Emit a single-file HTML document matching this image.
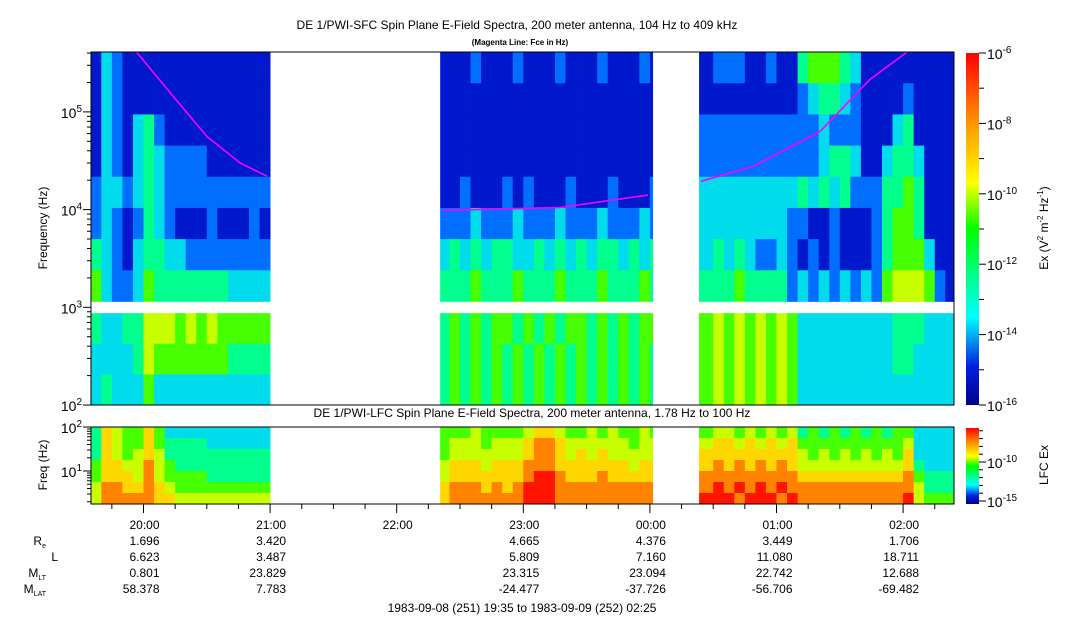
<!DOCTYPE html>
<html><head><meta charset="utf-8"><style>
html,body{margin:0;padding:0;background:#fff;}
svg{display:block;font-family:"Liberation Sans",Arial,sans-serif;}
</style></head><body>
<svg id="chart" width="1083" height="620" viewBox="0 0 1083 620" xmlns="http://www.w3.org/2000/svg">
<defs>
<linearGradient id="jet" x1="0" y1="1" x2="0" y2="0">
<stop offset="0" stop-color="#00008c"/><stop offset="0.11" stop-color="#0020e0"/><stop offset="0.25" stop-color="#00ffff"/><stop offset="0.5" stop-color="#00ff00"/><stop offset="0.63" stop-color="#ffff00"/><stop offset="0.8" stop-color="#ff9600"/><stop offset="1" stop-color="#ff0000"/>
</linearGradient>
</defs>
<g id="cells"></g>
<g id="gaps"></g>
<g id="fce"></g>
<text x="517" y="29" font-size="12" text-anchor="middle">DE 1/PWI-SFC  Spin Plane E-Field Spectra, 200 meter antenna, 104 Hz to 409 kHz</text>
<text x="520" y="45" font-size="8" font-weight="bold" text-anchor="middle">(Magenta Line: Fce in Hz)</text>
<text x="532" y="417" font-size="12" text-anchor="middle">DE 1/PWI-LFC  Spin Plane E-Field Spectra, 200 meter antenna, 1.78 Hz to 100 Hz</text>
<rect x="91" y="52" width="863" height="353" fill="none" stroke="#000" stroke-width="1"/>
<rect x="91" y="427" width="863" height="77" fill="none" stroke="#000" stroke-width="1"/>
<rect x="966" y="53" width="13" height="352" fill="url(#jet)"/>
<rect x="966" y="428" width="13" height="76" fill="url(#jet)"/>
<g id="axes" font-size="12"></g>
<text transform="translate(47,228) rotate(-90)" font-size="12" text-anchor="middle">Frequency (Hz)</text>
<text transform="translate(47,465) rotate(-90)" font-size="12" text-anchor="middle">Freq (Hz)</text>
<text transform="translate(1048,228) rotate(-90)" font-size="12" text-anchor="middle">Ex (V<tspan dy="-5" font-size="8">2</tspan><tspan dy="5"> m</tspan><tspan dy="-5" font-size="8">-2</tspan><tspan dy="5"> Hz</tspan><tspan dy="-5" font-size="8">-1</tspan><tspan dy="5">)</tspan></text>
<text transform="translate(1048,465) rotate(-90)" font-size="12" text-anchor="middle">LFC Ex</text>
<text x="522" y="612" font-size="12" text-anchor="middle">1983-09-08 (251) 19:35 to 1983-09-09 (252) 02:25</text>
</svg>
<script>
// ---- data ----
// spectrogram levels (0..9), one string per frequency band, 5-min columns from 19:35; '-' = no data
const sfcRows = [
 "13211111111111111"+"----------------"+"111211121112111211121"+"---"+"1"+"122211211455543111111111",
 "13211111111111111"+"----------------"+"111111111111111111111"+"---"+"1"+"111111111234432111121111",
 "13213421111111111"+"----------------"+"111111111111111111111"+"---"+"2"+"222222222223222111341111",
 "13213432222111111"+"----------------"+"111111111111111111111"+"---"+"2"+"222222222223443113443111",
 "23323432222222222"+"----------------"+"112111212111211121112"+"---"+"3"+"333333333434342224454111",
 "23212432111211121"+"----------------"+"222322232223222322232"+"---"+"3"+"333333332211211124554111",
 "43213443322222222"+"----------------"+"343434433434343443434"+"---"+"3"+"343432232121211124555311",
 "53223544444443333"+"----------------"+"444544454445444544454"+"---"+"4"+"444544442323232325666521",
 "43344666565655555"+"----------------"+"454545545454554545455"+"---"+"5"+"565656565333333333444333",
 "33334655555554444"+"----------------"+"454545454545454545454"+"---"+"5"+"565656565333333333443333",
 "34333533333333333"+"----------------"+"454545454545454545454"+"---"+"5"+"565656565333333333333333"
];
// band edges (log10 Hz), top to bottom
const sfcBandHi = [5.612,5.293,4.974,4.655,4.336,4.017,3.698,3.379, 2.94,2.627,2.313];
const sfcBandLo = [5.293,4.974,4.655,4.336,4.017,3.698,3.379,3.06, 2.627,2.313,2.0];
const lfcRows = [
 "47655753333333333"+"----------------"+"555655556776556565565"+"---"+"5"+"566565656454545454553333",
 "47655754444333333"+"----------------"+"566656667887666666566"+"---"+"6"+"677676767555555555563333",
 "47656764444444444"+"----------------"+"566666667887676766666"+"---"+"7"+"777777777656565656573333",
 "57766865444444444"+"----------------"+"677767778887777777677"+"---"+"7"+"787878787666666666674333",
 "57776865555444444"+"----------------"+"677777778998777877777"+"---"+"8"+"888888888777777777785444",
 "68877876555555555"+"----------------"+"788878789998888888888"+"---"+"8"+"898989898888888888886444",
 "68888877666666666"+"----------------"+"788888889998888888888"+"---"+"9"+"999899989888888888896555"
];
const lfcBandHi = [2.0,1.75,1.5,1.25,1.0,0.75,0.5];
const lfcBandLo = [1.75,1.5,1.25,1.0,0.75,0.5,0.25];
const colStepMin = 5;
const gapStartMin = [86.4, 266.5];
const gapEndMin = [165.6, 288.3];
// Fce (minutes since 19:35, Hz)
const fceT1 = [21.7,39,55.1,70.8,83.5];
const fceF1 = [409000,145000,56000,30000,22000];
const fceT2 = [166.5,222.4,264.1];
const fceF2 = [9800,10500,14100];
const fceT3 = [289.2,313.9,345.6,369.3,386.8];
const fceF3 = [19500,27600,63000,215000,409000];
// axis labels
const hourLabels = ["20:00","21:00","22:00","23:00","00:00","01:00","02:00"];
const hourMin = [25,85,145,205,265,325,385];
const ephRowNames = ["R","L","M","M"];
const ephRowSubs = ["e","","LT","LAT"];
const ephRe   = ["1.696","3.420","","4.665","4.376","3.449","1.706"];
const ephL    = ["6.623","3.487","","5.809","7.160","11.080","18.711"];
const ephMLT  = ["0.801","23.829","","23.315","23.094","22.742","12.688"];
const ephMLAT = ["58.378","7.783","","-24.477","-37.726","-56.706","-69.482"];
const sfcDecades = [2,3,4,5];
const sfcCbExp = [-6,-8,-10,-12,-14,-16];
const lfcCbExp = [-10,-15];

// ---- scales ----
const NS="http://www.w3.org/2000/svg";
const xT = m => 90.75 + m*2.11;
const ySfc = lf => 405 - (lf-2)*97.7;
const yLfc = lf => 427 + (2-lf)*44;
const levelColors=[[0,0,140],[0,25,205],[0,110,255],[0,220,235],[0,255,140],[70,255,0],[200,255,0],[255,215,0],[255,130,0],[255,20,0]];
function cmap(v){const c=levelColors[Math.max(0,Math.min(9,v))];return `rgb(${c[0]},${c[1]},${c[2]})`;}
function mk(tag,attrs,parent){const e=document.createElementNS(NS,tag);for(const k in attrs)e.setAttribute(k,attrs[k]);parent.appendChild(e);return e;}

const cells=document.getElementById('cells');
function drawRows(rows,hi,lo,yf,name){
 rows.forEach((s,r)=>{
  const y0=yf(hi[r]), y1=yf(lo[r]);
  for(let k=0;k<s.length;k++){
   const ch=s[k]; if(ch==='-') continue;
   const x0=xT(k*colStepMin), x1=Math.min(xT((k+1)*colStepMin),954);
   const e=mk('rect',{x:x0.toFixed(2),y:y0.toFixed(2),width:(x1-x0+0.4).toFixed(2),height:(y1-y0+0.4).toFixed(2),fill:cmap(+ch)},cells);
   
   
  }
 });
}
drawRows(sfcRows,sfcBandHi,sfcBandLo,ySfc,'sfc-heatmap-cell');
drawRows(lfcRows,lfcBandHi,lfcBandLo,yLfc,'lfc-heatmap-cell');

const gaps=document.getElementById('gaps');
gapStartMin.forEach((g,i)=>{
 const w=xT(gapEndMin[i])-xT(g);
 const e=mk('rect',{x:xT(g),y:52,width:w,height:353,fill:'#fff'},gaps);
 
 
 const e2=mk('rect',{x:xT(g),y:427,width:w,height:77,fill:'#fff'},gaps);
 
 
});

const fce=document.getElementById('fce');
[[fceT1,fceF1],[fceT2,fceF2],[fceT3,fceF3]].forEach(([T,F])=>{
 const pts=[];
 for(let i=0;i<T.length-1;i++){for(let j=0;j<10;j++){const f=j/10;const t=T[i]+(T[i+1]-T[i])*f;const lf=Math.log10(F[i])+(Math.log10(F[i+1])-Math.log10(F[i]))*f;pts.push(xT(t).toFixed(1)+','+ySfc(lf).toFixed(1));}}
 pts.push(xT(T[T.length-1]).toFixed(1)+','+ySfc(Math.log10(F[F.length-1])).toFixed(1));
 const e=mk('polyline',{points:pts.join(' '),fill:'none',stroke:'#ff00ff','stroke-width':1.6},fce);
 
 
});

const ax=document.getElementById('axes');
function line(x1,y1,x2,y2,name){const e=mk('line',{x1,y1,x2,y2,stroke:'#000','stroke-width':1},ax);}
function pow(x,y,exp,anchor,name){const t=mk('text',{x,y,'text-anchor':anchor,'font-size':14},ax);t.innerHTML='10<tspan dy="-6" font-size="10">'+exp+'</tspan>';}
for(let d=2;d<=5;d++){for(let m=1;m<10;m++){const lf=d+Math.log10(m);if(lf>5.612)break;const y=ySfc(lf);line(m===1?83:87,y,91,y,'sfc-y-tick');}}
sfcDecades.forEach(d=>pow(82,ySfc(d)+6,String(d),'end','sfc-y-tick-label'));
for(let d=0;d<=1;d++){for(let m=1;m<10;m++){const lf=d+Math.log10(m);if(lf<0.25)continue;const y=yLfc(lf);line(87,y,91,y,'lfc-y-tick');}}
line(83,yLfc(2),91,yLfc(2),'lfc-y-tick');line(83,yLfc(1),91,yLfc(1),'lfc-y-tick');
pow(82,yLfc(2)+6,"2",'end','lfc-y-tick-label');pow(82,yLfc(1)+6,"1",'end','lfc-y-tick-label');
for(let m=10;m<=410;m+=15){const x=xT(m);if(x>954)break;const major=(m-25)%60===0;line(x,504,x,major?513:509,'x-tick');}
hourLabels.forEach((h,i)=>{const x=xT(hourMin[i])+16;
 const t=mk('text',{x,y:529,'text-anchor':'end','font-size':12},ax);t.textContent=h;
 [ephRe,ephL,ephMLT,ephMLAT].forEach((arr,r)=>{if(!arr[i])return;const v=mk('text',{x,y:545+r*16,'text-anchor':'end','font-size':12},ax);v.textContent=arr[i];});
});
ephRowNames.forEach((n,r)=>{const t=mk('text',{x:ephRowSubs[r]?46:58,y:545+r*16,'text-anchor':'end','font-size':12},ax);t.innerHTML=n+(ephRowSubs[r]?'<tspan dy="3" font-size="7">'+ephRowSubs[r]+'</tspan>':'');});
const cbY = e => 53 + (-6 - e)*35.2;
for(let e=-6;e>=-16;e--){const y=cbY(e);line(979,y,e%2===0?986:984,y,'sfc-colorbar-tick');}
sfcCbExp.forEach(e=>pow(987,cbY(e)+6,String(e),'start','sfc-colorbar-label'));
const lcbY = e => 462 + (-10 - e)*7.8;
for(let e=-6;e>=-15;e--){const y=lcbY(e);line(979,y,(e===-10||e===-15)?986:983,y,'lfc-colorbar-tick');}
lfcCbExp.forEach(e=>pow(987,lcbY(e)+6,String(e),'start','lfc-colorbar-label'));
</script>
</body></html>
